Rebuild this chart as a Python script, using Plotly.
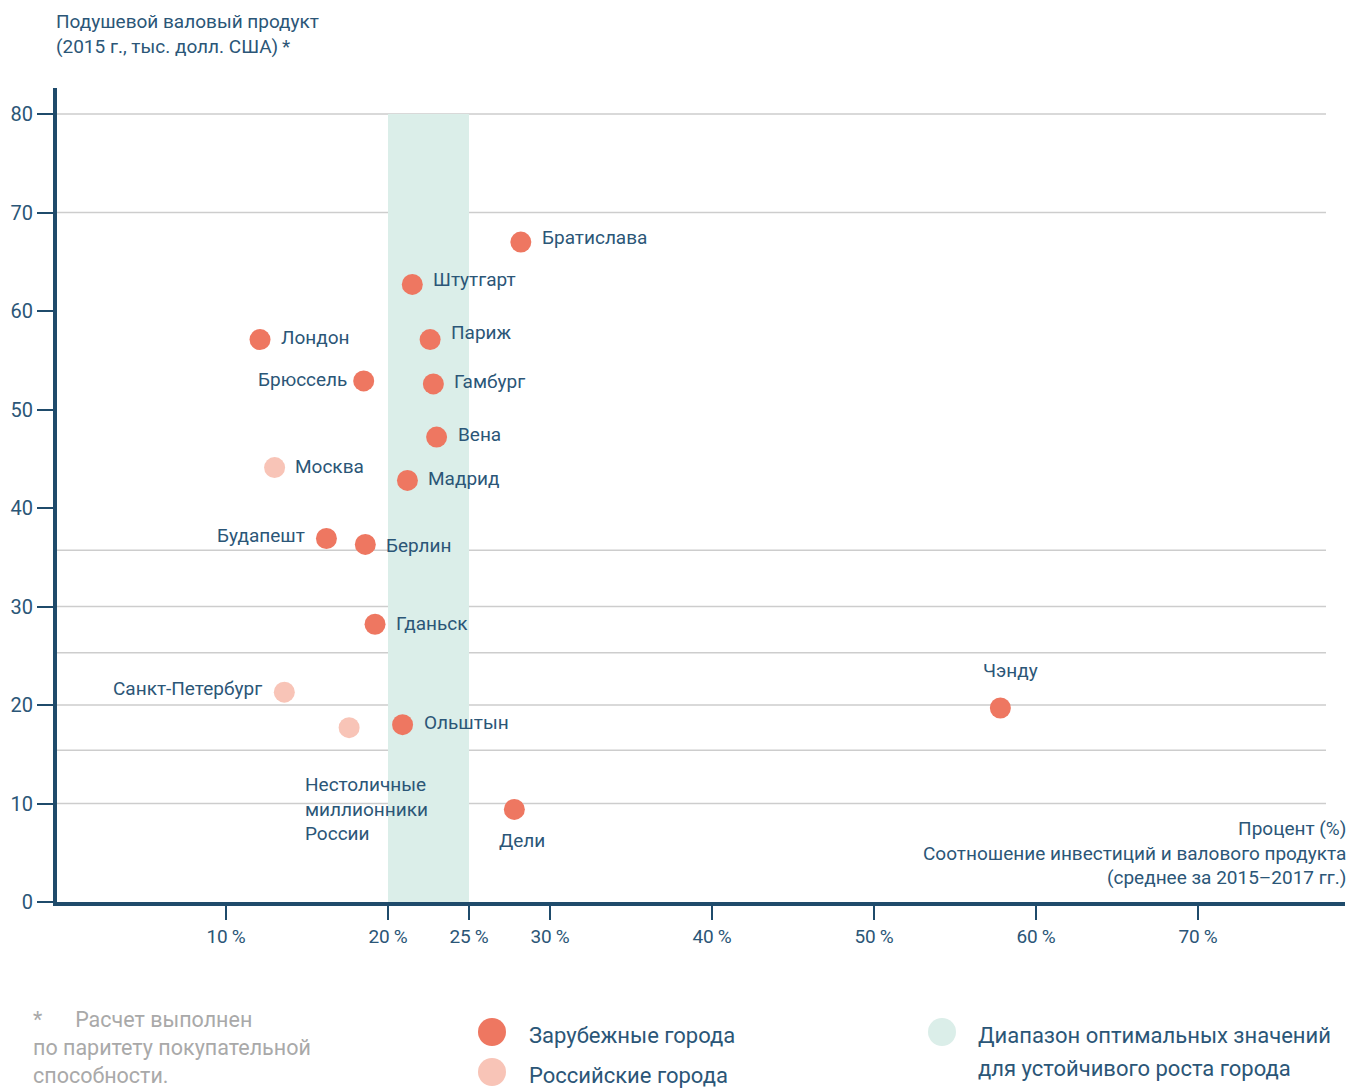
import plotly.graph_objects as go

# ---------------- data ----------------
foreign_cities = ["Братислава", "Штутгарт", "Лондон", "Париж", "Брюссель", "Гамбург", "Вена",
                  "Мадрид", "Будапешт", "Берлин", "Гданьск", "Ольштын", "Дели", "Чэнду"]
foreign_x = [28.2, 21.5, 12.1, 22.6, 18.5, 22.8, 23.0, 21.2, 16.2, 18.6, 19.2, 20.9, 27.8, 57.8]
foreign_y = [67.0, 62.7, 57.1, 57.1, 52.9, 52.6, 47.2, 42.8, 36.9, 36.3, 28.2, 18.0, 9.4, 19.7]

russian_cities = ["Москва", "Санкт-Петербург", "Нестоличные<br>миллионники<br>России"]
russian_x = [13.0, 13.6, 17.6]
russian_y = [44.1, 21.3, 17.7]

optimal_range = [20, 25]
x_ticks = [10, 20, 25, 30, 40, 50, 60, 70]
x_tick_labels = ["10\u2009%", "20\u2009%", "25\u2009%", "30\u2009%", "40\u2009%", "50\u2009%", "60\u2009%", "70\u2009%"]
y_ticks = [0, 10, 20, 30, 40, 50, 60, 70, 80]
grid_y = [80, 70, 35.7, 30, 25.3, 20, 15.4, 10]

# ---------------- style ----------------
FONT = "Roboto"
TEXT = "#2b5677"
AXIS = "#1f4b6b"
CORAL = "#ee7761"
PINK = "#f8c4b7"
MINT = "#dbeee9"
GRID = "#cdcdcd"
GREY = "#a9a9a9"

W, H = 1349, 1088
L, R, T, B = 57, 4, 88, 186
PW, PH = W - L - R, H - T - B


def px(xp):  # page pixel -> paper x
    return (xp - L) / PW


def py(yp):  # page pixel -> paper y
    return (H - B - yp) / PH


# label placement: xanchor, xshift, yshift
label_pos = {
    "Братислава": ("left", 19, 5),
    "Штутгарт": ("left", 19, 5),
    "Лондон": ("left", 19, 2),
    "Париж": ("left", 19, 7),
    "Брюссель": ("right", -15, 1),
    "Гамбург": ("left", 19, 2),
    "Вена": ("left", 19, 3),
    "Мадрид": ("left", 19, 2),
    "Будапешт": ("right", -19, 3),
    "Берлин": ("left", 19, -1),
    "Гданьск": ("left", 19, 1),
    "Ольштын": ("left", 19, 2),
    "Дели": ("center", 8, -31),
    "Чэнду": ("center", 10, 37),
    "Москва": ("left", 18, 1),
    "Санкт-Петербург": ("right", -20, 4),
    "Нестоличные<br>миллионники<br>России": ("left", -46, -81),
}

fig = go.Figure()

fig.add_trace(go.Scatter(
    x=foreign_x, y=foreign_y, mode="markers", name="Зарубежные города",
    marker=dict(size=21, color=CORAL), showlegend=False, hoverinfo="skip"))
fig.add_trace(go.Scatter(
    x=russian_x, y=russian_y, mode="markers", name="Российские города",
    marker=dict(size=21, color=PINK), showlegend=False, hoverinfo="skip"))

annotations = []
for names, xs, ys in [(foreign_cities, foreign_x, foreign_y), (russian_cities, russian_x, russian_y)]:
    for n, x, y in zip(names, xs, ys):
        xa, xs_, ys_ = label_pos[n]
        annotations.append(dict(
            x=x, y=y, xref="x", yref="y", text=n, showarrow=False,
            xanchor=xa, yanchor="middle", xshift=xs_, yshift=ys_, align="left",
            font=dict(family=FONT, size=19, color=TEXT)))

# y-axis title (top-left)
annotations.append(dict(
    x=px(54), y=py(8), xref="paper", yref="paper", xanchor="left", yanchor="top",
    text="Подушевой валовый продукт<br>(2015 г., тыс. долл. США)\u2009*", showarrow=False, align="left",
    font=dict(family=FONT, size=19, color=TEXT)))

# x-axis title (bottom-right)
annotations.append(dict(
    x=px(1348), y=py(815), xref="paper", yref="paper", xanchor="right", yanchor="top",
    text="Процент (%)<br>Соотношение инвестиций и валового продукта<br>(среднее за 2015–2017 гг.)",
    showarrow=False, align="right",
    font=dict(family=FONT, size=19, color=TEXT)))

# footnote
annotations.append(dict(
    x=px(31), y=py(1005), xref="paper", yref="paper", xanchor="left", yanchor="top",
    text="*\u2003\u2002Расчет выполнен<br>по паритету покупательной<br>способности.",
    showarrow=False, align="left",
    font=dict(family=FONT, size=21.5, color=GREY)))

# legend texts
legend_texts = [
    (527, 1035, "Зарубежные города"),
    (527, 1075, "Российские города"),
    (976, 1035, "Диапазон оптимальных значений"),
    (976, 1068, "для устойчивого роста города"),
]
for lx, ly, t in legend_texts:
    annotations.append(dict(
        x=px(lx), y=py(ly), xref="paper", yref="paper", xanchor="left", yanchor="middle",
        text=t, showarrow=False,
        font=dict(family=FONT, size=22, color=TEXT)))

shapes = []
# optimal band
shapes.append(dict(type="rect", xref="x", yref="y", x0=optimal_range[0], x1=optimal_range[1],
                   y0=0, y1=80, fillcolor=MINT, line=dict(width=0), layer="below"))
# gridlines
for g in grid_y:
    shapes.append(dict(type="line", xref="paper", yref="y", x0=0, x1=px(1326), y0=g, y1=g,
                       line=dict(color=GRID, width=1.5), layer="below"))

# legend markers
for (cx, cy, col) in [(492, 1032, CORAL), (492, 1072, PINK), (942, 1032, MINT)]:
    shapes.append(dict(type="circle", xref="paper", yref="paper",
                       xsizemode="pixel", ysizemode="pixel",
                       xanchor=px(cx), yanchor=py(cy),
                       x0=-14, x1=14, y0=-14, y1=14,
                       fillcolor=col, line=dict(width=0)))

x0v = 10 - (226 - 57) / 16.2
x1v = 10 + (1345 - 226) / 16.2

fig.update_layout(
    width=W, height=H,
    margin=dict(l=L, r=R, t=T, b=B),
    paper_bgcolor="white", plot_bgcolor="white",
    font=dict(family=FONT, color=TEXT),
    xaxis=dict(range=[x0v, x1v], tickvals=x_ticks, ticktext=x_tick_labels,
               showgrid=False, zeroline=False, showline=True, linecolor=AXIS, linewidth=4,
               ticks="outside", ticklen=14, tickwidth=1.5, tickcolor=AXIS,
               tickfont=dict(family=FONT, size=19, color=TEXT), fixedrange=True),
    yaxis=dict(range=[0, (H - B - T) / 9.85], tickvals=y_ticks,
               showgrid=False, zeroline=False, showline=True, linecolor=AXIS, linewidth=4,
               ticks="outside", ticklen=16, tickwidth=1.5, tickcolor=AXIS,
               tickfont=dict(family=FONT, size=20, color=TEXT), fixedrange=True),
    annotations=annotations,
    shapes=shapes,
    showlegend=False,
)

fig.write_html("out.html",
               config={"displayModeBar": False},
               post_script="document.body.style.margin='0';document.body.style.overflow='hidden';")
